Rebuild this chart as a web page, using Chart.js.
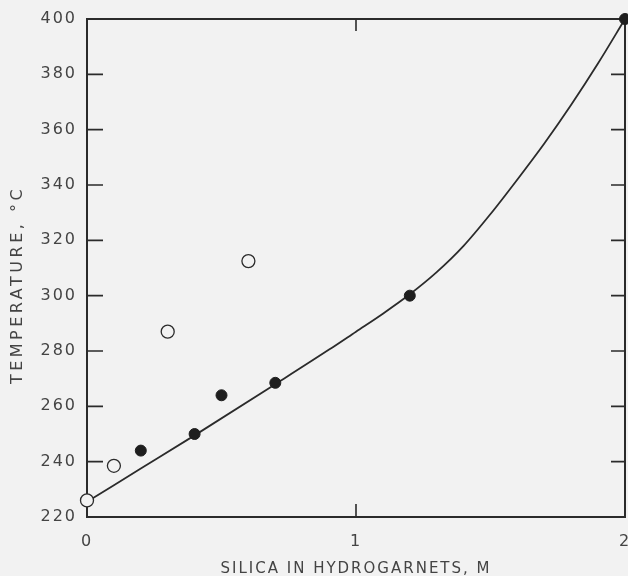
<!DOCTYPE html>
<html>
<head>
<meta charset="utf-8">
<script src="https://cdn.jsdelivr.net/npm/chart.js@4"></script>
<style>
  body { margin: 0; background: #f2f2f2; }
  #wrap { width: 628px; height: 576px; }
</style>
</head>
<body>
<div id="wrap"><canvas id="chart" width="628" height="576"></canvas></div>
<script>
// values
let curveX = [0, 0.2, 0.4, 0.7, 0.9, 1.0, 1.1, 1.2, 1.3, 1.4, 1.5, 1.6, 1.7, 1.8, 1.9, 2.0];
let curveY = [225.5, 237.5, 249.5, 268, 280.5, 287, 293.5, 300.5, 308.5, 318, 329.5, 342, 355, 369, 384, 400];

let filledX = [0.2, 0.4, 0.5, 0.7, 1.2, 2.0];
let filledY = [244, 250, 264, 268.5, 300, 400];

let openX = [0, 0.1, 0.3, 0.6];
let openY = [226, 238.5, 287, 312.5];

let xTicks = [0, 1, 2];
let yTicks = [220, 240, 260, 280, 300, 320, 340, 360, 380, 400];

let yTitle = 'TEMPERATURE, °C';
let ink = '#2b2b2b';

function pts(xs, ys) {
    return xs.map((x, i) => ({x: x, y: ys[i]}));
}

// frame, inward ticks and the y title
let framePlugin = {
    id: 'frame',
    beforeDraw(chart) {
        chart.ctx.letterSpacing = '2px';
    },
    beforeDatasetsDraw(chart) {
        let ctx = chart.ctx;
        let a = chart.chartArea;
        let xs = chart.scales.x, ys = chart.scales.y;
        ctx.save();
        ctx.strokeStyle = ink;
        ctx.lineWidth = 2;
        ctx.strokeRect(a.left, a.top, a.right - a.left, a.bottom - a.top);
        ctx.lineWidth = 1.6;
        ctx.beginPath();
        yTicks.slice(1, -1).forEach(v => {
            let y = ys.getPixelForValue(v);
            ctx.moveTo(a.left, y); ctx.lineTo(a.left + 16, y);
            ctx.moveTo(a.right, y); ctx.lineTo(a.right - 14, y);
        });
        xTicks.slice(1, -1).forEach(v => {
            let x = xs.getPixelForValue(v);
            ctx.moveTo(x, a.bottom); ctx.lineTo(x, a.bottom - 13);
            ctx.moveTo(x, a.top); ctx.lineTo(x, a.top + 12);
        });
        ctx.stroke();

        // y title sits a little below the middle of the axis in the original
        ctx.letterSpacing = '3.5px';
        ctx.fillStyle = '#444';
        ctx.font = '16px "DejaVu Sans"';
        ctx.textAlign = 'center';
        ctx.textBaseline = 'middle';
        ctx.translate(18, (a.top + a.bottom) / 2 + 17);
        ctx.rotate(-Math.PI / 2);
        ctx.fillText(yTitle, 0, 0);
        ctx.restore();
    }
};

function generateChart() {
    let context = document.getElementById('chart').getContext('2d');
    return new Chart(context, {
        type: 'scatter',
        data: {
            datasets: [{
                label: 'open',
                data: pts(openX, openY),
                pointRadius: 6.5,
                pointBackgroundColor: '#f2f2f2',
                pointBorderColor: ink,
                pointBorderWidth: 1.3,
                clip: false
            }, {
                label: 'filled',
                data: pts(filledX, filledY),
                pointRadius: 5.5,
                pointBackgroundColor: '#1e1e1e',
                pointBorderColor: '#1e1e1e',
                pointBorderWidth: 1,
                clip: false
            }, {
                type: 'line',
                label: 'curve',
                data: pts(curveX, curveY),
                borderColor: ink,
                borderWidth: 1.8,
                pointRadius: 0,
                cubicInterpolationMode: 'monotone',
                fill: false,
                clip: false
            }]
        },
        options: {
            responsive: false,
            animation: false,
            layout: { autoPadding: false, padding: { top: 19, right: 3, left: 0, bottom: 0 } },
            plugins: { legend: { display: false }, tooltip: { enabled: false } },
            scales: {
                x: {
                    type: 'linear', min: 0, max: 2,
                    afterBuildTicks: s => { s.ticks = xTicks.map(v => ({value: v})); },
                    afterFit: s => { s.height = 59; s.paddingLeft = 0; s.paddingRight = 0; },
                    grid: { display: false, drawTicks: false },
                    border: { display: false },
                    ticks: {
                        color: '#444', padding: 15, maxRotation: 0, autoSkip: false,
                        font: { family: 'DejaVu Sans', size: 16 },
                        callback: v => String(v)
                    },
                    title: {
                        display: true, text: 'SILICA IN HYDROGARNETS, M', color: '#444',
                        font: { family: 'DejaVu Sans', size: 15 },
                        padding: { top: 0, bottom: -2 }
                    }
                },
                y: {
                    type: 'linear', min: 220, max: 400,
                    afterBuildTicks: s => { s.ticks = yTicks.map(v => ({value: v})); },
                    afterFit: s => { s.width = 87; s.paddingTop = 0; s.paddingBottom = 0; },
                    grid: { display: false, drawTicks: false },
                    border: { display: false },
                    ticks: {
                        color: '#444', padding: 10, autoSkip: false,
                        font: { family: 'DejaVu Sans', size: 16 }
                    },
                    title: { display: false }
                }
            }
        },
        plugins: [framePlugin]
    });
}

generateChart();
</script>
</body>
</html>
